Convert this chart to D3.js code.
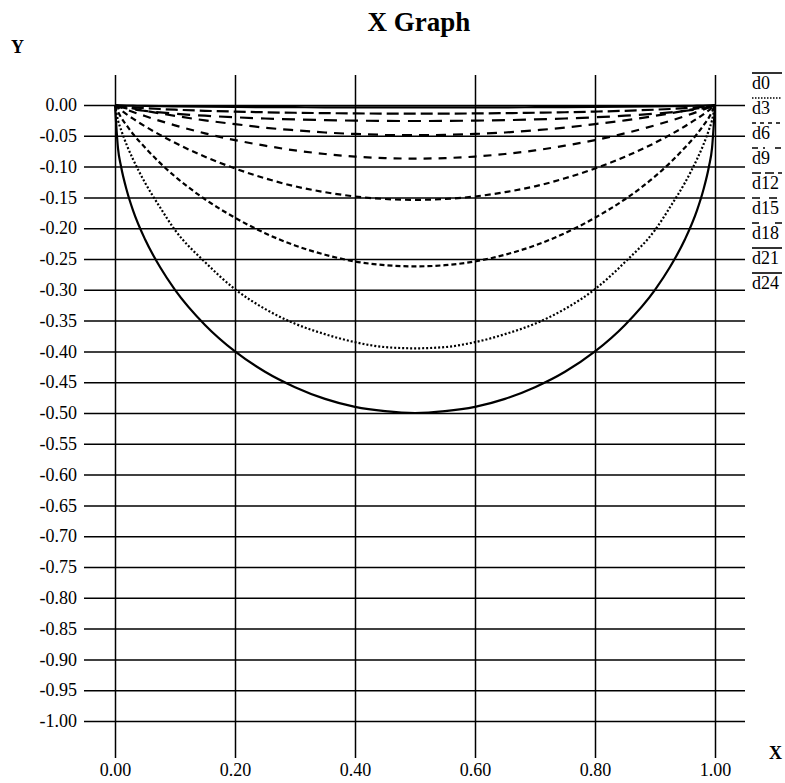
<!DOCTYPE html>
<html>
<head>
<meta charset="utf-8">
<script src="https://cdn.jsdelivr.net/npm/d3@7"></script>
<style>
  body { margin: 0; background: #fff; }
  text { font-family: "Liberation Serif", "DejaVu Serif", serif; fill: #000; }
</style>
</head>
<body>
<svg width="785" height="783"></svg>
<script>
// The svg
const svg = d3.select('svg'),
  width = +svg.attr('width'),
  height = +svg.attr('height');

// Data (x positions and the depth of each curve)
const xs = [0, 0.005, 0.01, 0.02, 0.03, 0.05, 0.075, 0.1, 0.15, 0.2, 0.25, 0.3, 0.35, 0.4, 0.45, 0.5,
  0.55, 0.6, 0.65, 0.7, 0.75, 0.8, 0.85, 0.9, 0.925, 0.95, 0.97, 0.98, 0.99, 0.995, 1];

const curve0 = [0, -0.0004, -0.0006, -0.0009, -0.0011, -0.0015, -0.0019, -0.0022, -0.0027, -0.0031, -0.0034, -0.0036, -0.0038, -0.0039, -0.004, -0.004,
  -0.004, -0.0039, -0.0038, -0.0036, -0.0034, -0.0031, -0.0027, -0.0022, -0.0019, -0.0015, -0.0011, -0.0009, -0.0006, -0.0004, 0];
const curve3 = [0, -0.0013, -0.002, -0.003, -0.0039, -0.0052, -0.0065, -0.0076, -0.0094, -0.0107, -0.0118, -0.0126, -0.0132, -0.0137, -0.0139, -0.014,
  -0.0139, -0.0137, -0.0132, -0.0126, -0.0118, -0.0107, -0.0094, -0.0076, -0.0065, -0.0052, -0.0039, -0.003, -0.002, -0.0013, 0];
const curve6 = [0, -0.0025, -0.0037, -0.0056, -0.0072, -0.0096, -0.012, -0.0141, -0.0174, -0.0199, -0.0219, -0.0234, -0.0246, -0.0254, -0.0258, -0.026,
  -0.0258, -0.0254, -0.0246, -0.0234, -0.0219, -0.0199, -0.0174, -0.0141, -0.012, -0.0096, -0.0072, -0.0056, -0.0037, -0.0025, 0];
const curve9 = [0, -0.001, -0.0019, -0.0038, -0.0057, -0.0093, -0.0136, -0.0176, -0.025, -0.031, -0.0368, -0.041, -0.0446, -0.047, -0.0485, -0.049,
  -0.0485, -0.047, -0.0446, -0.041, -0.0368, -0.031, -0.025, -0.0176, -0.0136, -0.0093, -0.0057, -0.0038, -0.0019, -0.001, 0];
const curve12 = [0, -0.0021, -0.004, -0.0077, -0.0113, -0.0179, -0.0258, -0.033, -0.046, -0.057, -0.066, -0.0737, -0.0795, -0.0837, -0.0862, -0.087,
  -0.0862, -0.0837, -0.0795, -0.0737, -0.066, -0.057, -0.046, -0.033, -0.0258, -0.0179, -0.0113, -0.0077, -0.004, -0.0021, 0];
const curve15 = [0, -0.0045, -0.0084, -0.0156, -0.0222, -0.0345, -0.0485, -0.0614, -0.084, -0.103, -0.119, -0.132, -0.1415, -0.1485, -0.1526, -0.154,
  -0.1526, -0.1485, -0.1415, -0.132, -0.119, -0.103, -0.084, -0.0614, -0.0485, -0.0345, -0.0222, -0.0156, -0.0084, -0.0045, 0];
const curve18 = [0, -0.011, -0.02, -0.034, -0.047, -0.069, -0.094, -0.116, -0.153, -0.183, -0.208, -0.228, -0.243, -0.254, -0.26, -0.262,
  -0.26, -0.254, -0.243, -0.228, -0.208, -0.183, -0.153, -0.116, -0.094, -0.069, -0.047, -0.034, -0.02, -0.011, 0];
const curve21 = [0, -0.025, -0.04, -0.066, -0.088, -0.126, -0.166, -0.203, -0.255, -0.299, -0.331, -0.355, -0.372, -0.385, -0.393, -0.395,
  -0.393, -0.385, -0.372, -0.355, -0.331, -0.299, -0.255, -0.203, -0.166, -0.126, -0.088, -0.066, -0.04, -0.025, 0];
const curve24 = [0, -0.0705, -0.0995, -0.14, -0.171, -0.218, -0.263, -0.3, -0.357, -0.4, -0.433, -0.458, -0.477, -0.49, -0.497, -0.5,
  -0.497, -0.49, -0.477, -0.458, -0.433, -0.4, -0.357, -0.3, -0.263, -0.218, -0.171, -0.14, -0.0995, -0.0705, 0];

const seriesNames = ['d0', 'd3', 'd6', 'd9', 'd12', 'd15', 'd18', 'd21', 'd24'];
const seriesValues = [curve0, curve3, curve6, curve9, curve12, curve15, curve18, curve21, curve24];
const dashes = ['none', '12,5', '13,8', '10,7', '8,7', '6,4', '5,3', '2,2', 'none'];
const legendDashes = ['none', '1.5,1.5', '4,4', '6,5,2,10', '9,4', '8,9', '7,16', 'none', 'none'];

const xTicks = [0, 0.2, 0.4, 0.6, 0.8, 1.0];
const yTicks = d3.range(0, 21).map(i => -i * 0.05);

// Scales
const x = d3.scaleLinear().domain([0, 1]).range([115, 715]);
const y = d3.scaleLinear().domain([-1, 0]).range([721, 105]);

// Title and axis names
svg.append('text')
  .attr('x', 419).attr('y', 31)
  .attr('text-anchor', 'middle')
  .style('font-size', '27px')
  .style('font-weight', 'bold')
  .text('X Graph');
svg.append('text')
  .attr('x', 11).attr('y', 53)
  .style('font-size', '18px')
  .style('font-weight', 'bold')
  .text('Y');
svg.append('text')
  .attr('x', 769).attr('y', 759)
  .style('font-size', '18px')
  .style('font-weight', 'bold')
  .text('X');

// Horizontal grid lines + y labels
const gy = svg.append('g')
  .attr('transform', 'translate(84,0)')
  .call(d3.axisLeft(y).tickValues(yTicks).tickSize(-661));
gy.select('.domain').remove();
gy.selectAll('line').attr('stroke', '#000').attr('stroke-width', 1.5);
gy.selectAll('text')
  .attr('x', -7)
  .style('font-family', '"Liberation Serif", serif')
  .style('font-size', '18px')
  .text(d => (d < 0 ? '-' : '') + Math.abs(d).toFixed(2));

// Vertical grid lines + x labels
const gx = svg.append('g')
  .attr('transform', 'translate(0,758)')
  .call(d3.axisBottom(x).tickValues(xTicks).tickSize(-683).tickPadding(5));
gx.select('.domain').remove();
gx.selectAll('line').attr('stroke', '#000').attr('stroke-width', 1.5);
gx.selectAll('text')
  .style('font-family', '"Liberation Serif", serif')
  .style('font-size', '18px')
  .text(d => d.toFixed(2));

// Curves
const line = d3.line()
  .x((d, i) => x(xs[i]))
  .y(d => y(d))
  .curve(d3.curveMonotoneX);

svg.append('g')
  .selectAll('path')
  .data(seriesValues)
  .enter()
  .append('path')
  .attr('d', line)
  .attr('fill', 'none')
  .attr('stroke', '#000')
  .attr('stroke-width', 2.2)
  .attr('stroke-dasharray', (d, i) => dashes[i]);

// Legend: label with the line style drawn over it
const legend = svg.append('g')
  .selectAll('g')
  .data(seriesNames)
  .enter()
  .append('g')
  .attr('transform', (d, i) => `translate(752, ${83 + i * 25})`);
legend.append('line')
  .attr('x1', 0).attr('x2', 30)
  .attr('y1', -10).attr('y2', -10)
  .attr('stroke', '#000')
  .attr('stroke-width', 1.6)
  .attr('stroke-dasharray', (d, i) => legendDashes[i]);
legend.append('text')
  .attr('x', 0).attr('y', 6)
  .style('font-size', '18px')
  .text(d => d);
</script>
</body>
</html>
